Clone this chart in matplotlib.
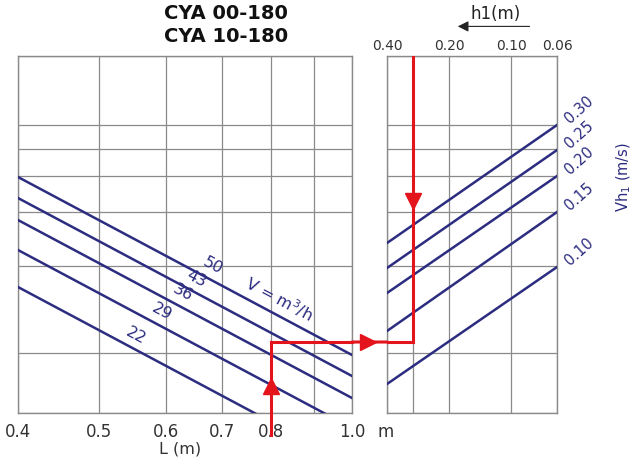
import numpy as np
import matplotlib.pyplot as plt
from matplotlib.lines import Line2D
from matplotlib.patches import ConnectionPatch

# Left panel: flow lines V (m3/h) over L (m), y is an unlabelled chart scale
L_ticks = [0.4, 0.5, 0.6, 0.7, 0.8, 1.0]
L_grid = [0.4, 0.5, 0.6, 0.7, 0.8, 0.9, 1.0]
V_values = [50, 43, 36, 29, 22]
V_y_at_04 = [236, 215, 193, 163, 126]
V_y_at_10 = [58, 37, 15, -15, -52]
V_label_L = [0.674, 0.645, 0.621, 0.587, 0.547]

# Right panel: velocity lines Vh1 (m/s) over h1 (m)
h1_ticks = [0.40, 0.20, 0.10, 0.06]
h1_grid = [0.4, 0.3, 0.2, 0.1, 0.06]
Vh_values = [0.30, 0.25, 0.20, 0.15, 0.10]
Vh_y_at_040 = [170, 145, 120, 82, 29]
Vh_y_at_006 = [288, 263, 237, 201, 146]

# shared horizontal grid
y_grid = [0, 60, 147, 201, 237, 264, 288, 357]

# worked example (red path)
ex_L = 0.8
ex_h1 = 0.3
ex_y = 71

blue = '#2c2c80'
red = '#e3141b'
grey = '#8a8a8a'

fig = plt.figure(figsize=(6.36, 4.65), dpi=100)
ax1 = fig.add_axes([0.0283, 0.1118, 0.5252, 0.7677])
ax2 = fig.add_axes([0.6085, 0.1118, 0.2673, 0.7677])

for ax in (ax1, ax2):
    ax.set_xscale('log')
    ax.set_ylim(0, 357)
    ax.set_yticks([])
    ax.xaxis.set_minor_locator(plt.NullLocator())
    for s in ax.spines.values():
        s.set_color(grey)
        s.set_linewidth(1.0)
    for y in y_grid:
        ax.axhline(y, color=grey, lw=0.9, zorder=1)

# ---- left panel
ax1.set_xlim(0.4, 1.0)
for x in L_grid:
    ax1.axvline(x, color=grey, lw=0.9, zorder=1)
ax1.set_xticks(L_ticks)
ax1.set_xticklabels([f'{v:.1f}' for v in L_ticks])
ax1.tick_params(axis='x', length=0, pad=7, labelsize=12, labelcolor='#333333')
fig.text(0.283, 0.034, 'L (m)', fontsize=11.5, color='#333333',
         ha='center', va='center')
ax1.annotate('m', xy=(1.0, 0), xycoords=('data', 'axes fraction'),
             xytext=(24, -14), textcoords='offset points', fontsize=12,
             color='#333333', ha='center', va='center', annotation_clip=False)

for v, y0, y1, lx in zip(V_values, V_y_at_04, V_y_at_10, V_label_L):
    ax1.plot([0.4, 1.0], [y0, y1], color=blue, lw=1.8, zorder=3)
    ly = y0 + (y1 - y0) * np.log(lx / 0.4) / np.log(1.0 / 0.4)
    ax1.annotate(str(v), xy=(lx, ly), xytext=(3, 9), textcoords='offset points',
                 rotation=-28, fontsize=11.5, color=blue, ha='center', va='center')

# "V = m3/h" along the 50 line
lx = 0.814
ly = V_y_at_04[0] + (V_y_at_10[0] - V_y_at_04[0]) * np.log(lx / 0.4) / np.log(2.5)
ax1.annotate('V = m$^3$/h', xy=(lx, ly), xytext=(2, 12), textcoords='offset points',
             rotation=-28, fontsize=11.5, color=blue, ha='center', va='center')

# ---- right panel
ax2.set_xlim(0.4, 0.06)
for x in h1_grid:
    ax2.axvline(x, color=grey, lw=0.9, zorder=1)
ax2.xaxis.tick_top()
ax2.set_xticks(h1_ticks)
ax2.set_xticklabels([f'{v:.2f}' for v in h1_ticks])
ax2.tick_params(axis='x', length=0, pad=2, labelsize=10, labelcolor='#333333')

for v, y0, y1 in zip(Vh_values, Vh_y_at_040, Vh_y_at_006):
    ax2.plot([0.4, 0.06], [y0, y1], color=blue, lw=1.8, zorder=3)
    ax2.annotate(f'{v:.2f}', xy=(0.06, y1), xytext=(16, 11), textcoords='offset points',
                 rotation=42, fontsize=10.5, color=blue, ha='center', va='center',
                 annotation_clip=False)

ax2.text(1.39, 0.66, 'Vh$_1$ (m/s)', transform=ax2.transAxes, rotation=90,
         fontsize=10.5, color=blue, ha='center', va='center')

# h1(m) with arrow pointing left
ax2.annotate('', xy=(0.40, 1.083), xytext=(0.855, 1.083), xycoords='axes fraction',
             arrowprops=dict(arrowstyle='-|>', color='#222222', lw=0.8,
                             mutation_scale=16), annotation_clip=False)
ax2.text(0.64, 1.118, 'h1(m)', transform=ax2.transAxes, fontsize=12,
         color='#222222', ha='center', va='center')

# ---- red worked example
ax1.plot([ex_L, ex_L], [-22, ex_y], color=red, lw=2.2, zorder=5, clip_on=False)
ax1.plot([ex_L, 1.0], [ex_y, ex_y], color=red, lw=2.2, zorder=5, clip_on=False)
ax1.plot([ex_L], [27], marker='^', ms=11, color=red, zorder=6, clip_on=False)
ax2.plot([0.4, ex_h1], [ex_y, ex_y], color=red, lw=2.2, zorder=5)
ax2.plot([ex_h1, ex_h1], [ex_y, 357], color=red, lw=2.2, zorder=5)
ax2.plot([ex_h1], [212], marker='v', ms=12, color=red, zorder=6)
con = ConnectionPatch(xyA=(1.0, ex_y), coordsA='data', axesA=ax1,
                      xyB=(0.4, ex_y), coordsB='data', axesB=ax2,
                      color=red, lw=2.2)
fig.add_artist(con)
# arrowhead in the gap between the panels
xa = (ax1.get_position().x1 + ax2.get_position().x0) / 2
ya = ax1.transLimits.transform((1.0, ex_y))[1]
fig_y = ax1.get_position().y0 + ya * ax1.get_position().height
fig.add_artist(Line2D([xa - 0.003], [fig_y], marker='>', ms=12, color=red,
                      transform=fig.transFigure))

# titles
fig.text(0.355, 0.972, 'CYA 00-180', fontsize=14, fontweight='bold',
         color='#111111', ha='center', va='center')
fig.text(0.355, 0.922, 'CYA 10-180', fontsize=14, fontweight='bold',
         color='#111111', ha='center', va='center')

fig.savefig('out.png', dpi=100)
